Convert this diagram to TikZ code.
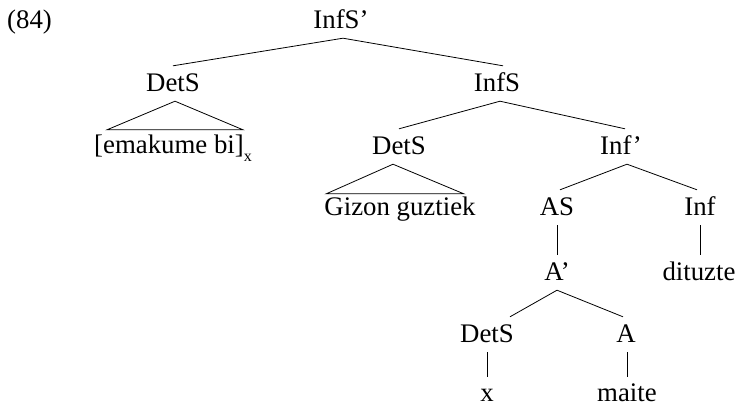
\documentclass[tikz,border=0pt]{standalone}
\usepackage{fontspec}
\setmainfont{Liberation Serif}
\begin{document}
\begin{tikzpicture}[x=1pt,y=-1pt,
  lab/.style={anchor=base, font=\fontsize{26.8}{30}\selectfont, text height=20pt, text depth=5pt, inner xsep=0pt, inner ysep=5pt},
  leaf/.style={lab, text height=24pt, text depth=0pt, inner ysep=0pt},
  edge/.style={line width=0.8pt}]
\useasboundingbox (0,0) rectangle (737,405);
% labels
\node[lab, anchor=base west] (num) at (7,28) {(84)};
\node[lab] (root) at (341,28) {InfS’};
\node[lab] (d1) at (173,91) {DetS};
\node[lab] (i1) at (497,91) {InfS};
\node[lab, anchor=base west] (emak) at (94,153) {[emakume bi]\raisebox{-8pt}{\fontsize{16}{16}\selectfont x}};
\node[lab] (d2) at (399,154) {DetS};
\node[lab] (ib) at (621,154) {Inf’};
\node[lab] (giz) at (400,215) {Gizon guztiek};
\node[lab] (as) at (557,215) {AS};
\node[lab] (inf) at (700,215) {Inf};
\node[lab] (ab) at (557,280) {A’};
\node[lab] (dit) at (699,280) {dituzte};
\node[lab] (d3) at (487,342) {DetS};
\node[lab] (a) at (626,342) {A};
\node[leaf] (x) at (487,401) {x};
\node[leaf] (maite) at (627,401) {maite};
% edges
\draw[edge] (d1.north) -- ([xshift=2]root.south) -- ([xshift=6]i1.north);
\draw[edge] (d2.north) -- ([xshift=3]i1.south) -- ([xshift=4]ib.north);
\draw[edge] ([xshift=3]as.north) -- ([xshift=6]ib.south) -- ([xshift=-3]inf.north);
\draw[edge] (as.south) -- (ab.north);
\draw[edge] (inf.south) -- ([xshift=1]dit.north);
\draw[edge] ([xshift=23]d3.north) -- (ab.south) -- ([xshift=-3]a.north);
\draw[edge] (d3.south) -- (x.north);
\draw[edge] ([xshift=1]a.south) -- (maite.north);
% triangles
\draw[edge] ([xshift=2]d1.south) -- ([xshift=13,yshift=-2]emak.north west) -- ([xshift=149,yshift=-2]emak.north west) -- cycle;
\draw[edge] ([xshift=-6]d2.south) -- ([xshift=2,yshift=-4]giz.north west) -- ([xshift=-12,yshift=-4]giz.north east) -- cycle;
\end{tikzpicture}
\end{document}
